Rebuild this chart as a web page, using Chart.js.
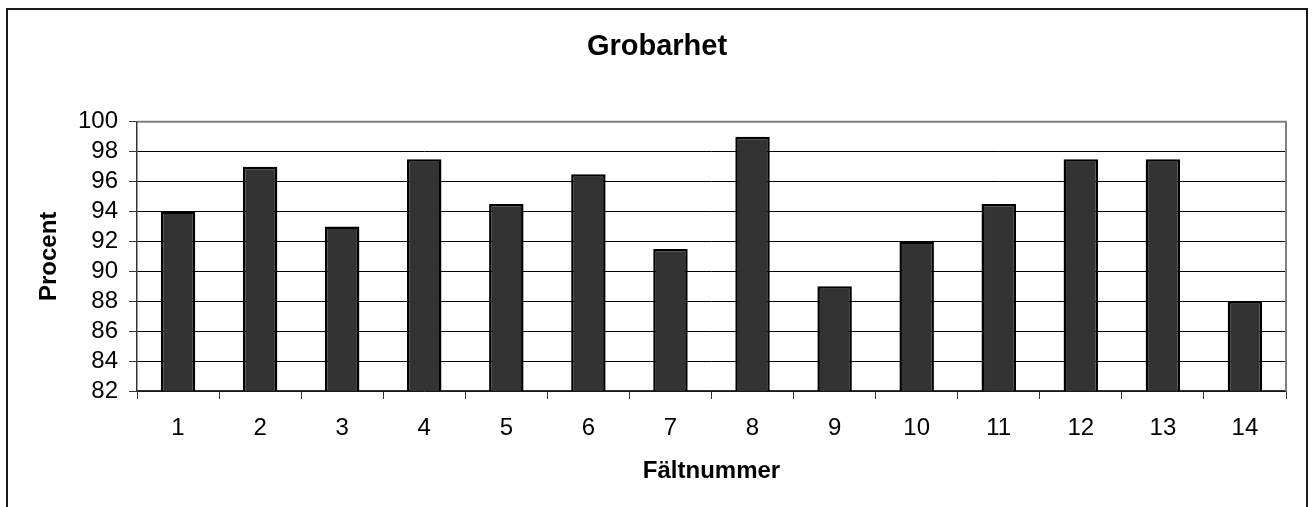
<!DOCTYPE html>
<html>
<head>
<meta charset="utf-8">
<title>Grobarhet</title>
<script src="https://cdn.jsdelivr.net/npm/chart.js@4.4.1/dist/chart.umd.min.js"></script>
<style>
  html, body { margin: 0; padding: 0; background: #fff; overflow: hidden; }
  #wrap { position: relative; width: 1314px; height: 507px; }
</style>
</head>
<body>
<div id="wrap"><canvas id="chart" width="1314" height="507"></canvas></div>
<script>
// Field numbers and the coarseness share (percent) measured for each field
const fieldNumbers = ['1', '2', '3', '4', '5', '6', '7', '8', '9', '10', '11', '12', '13', '14'];
const coarsenessPercent = [94, 97, 93, 97.5, 94.5, 96.5, 91.5, 99, 89, 92, 94.5, 97.5, 97.5, 88];
const yTicks = [82, 84, 86, 88, 90, 92, 94, 96, 98, 100];

const chartTitle = 'Grobarhet';
const xTitle = 'Fältnummer';
const yTitle = 'Procent';

const FONT = "'Liberation Sans', Arial, sans-serif";

// Outer chart frame plus the grey top/right edges of the plot area
const framePlugin = {
  id: 'frame',
  afterDraw(chart) {
    const ctx = chart.ctx;
    const a = chart.chartArea;
    ctx.save();
    ctx.strokeStyle = '#808080';
    ctx.lineWidth = 2;
    ctx.beginPath();
    ctx.moveTo(a.left, a.top);
    ctx.lineTo(a.right, a.top);
    ctx.lineTo(a.right, a.bottom);
    ctx.stroke();
    ctx.strokeStyle = '#1a1a1a';
    ctx.lineWidth = 2;
    ctx.strokeRect(7, 9, 1300, 700);
    ctx.restore();
  }
};

new Chart(document.getElementById('chart'), {
  type: 'bar',
  data: {
    labels: fieldNumbers,
    datasets: [{
      data: coarsenessPercent,
      backgroundColor: '#333333',
      borderColor: '#000000',
      borderWidth: 2.5,
      barPercentage: 0.42,
      categoryPercentage: 1.0
    }]
  },
  options: {
    responsive: false,
    animation: false,
    layout: { padding: { left: 28, right: 28, top: 0, bottom: 0 } },
    plugins: {
      legend: { display: false },
      tooltip: { enabled: false },
      title: {
        display: true,
        text: chartTitle,
        color: '#000',
        font: { family: FONT, size: 29, weight: 'bold' },
        padding: { top: 30, bottom: 57 }
      }
    },
    scales: {
      x: {
        offset: true,
        grid: {
          offset: true,
          drawOnChartArea: false,
          drawTicks: true,
          tickLength: 8,
          color: '#333',
          lineWidth: 1
        },
        border: { display: true, color: '#333', width: 1.5 },
        ticks: {
          color: '#000',
          font: { family: FONT, size: 24 },
          padding: 15,
          maxRotation: 0,
          autoSkip: false
        },
        title: {
          display: true,
          text: xTitle,
          color: '#000',
          font: { family: FONT, size: 24, weight: 'bold' },
          padding: { top: 0, bottom: 21 }
        },
        afterFit(scale) { scale.height = 116; }
      },
      y: {
        min: 82,
        max: 100,
        afterBuildTicks(scale) { scale.ticks = yTicks.map(v => ({ value: v })); },
        grid: {
          color: ctx => (ctx.tick && ctx.tick.value === 100 ? 'rgba(0,0,0,0)' : '#000'),
          lineWidth: 1,
          drawTicks: true,
          tickLength: 8,
          tickColor: '#333'
        },
        border: { display: true, color: '#333', width: 1.5 },
        ticks: {
          color: '#000',
          font: { family: FONT, size: 24 },
          padding: 11,
          autoSkip: false
        },
        title: {
          display: true,
          text: yTitle,
          color: '#000',
          font: { family: FONT, size: 24, weight: 'bold' },
          padding: { top: 7, bottom: 0 }
        },
        afterFit(scale) { scale.width = 109; }
      }
    }
  },
  plugins: [framePlugin]
});
</script>
</body>
</html>
